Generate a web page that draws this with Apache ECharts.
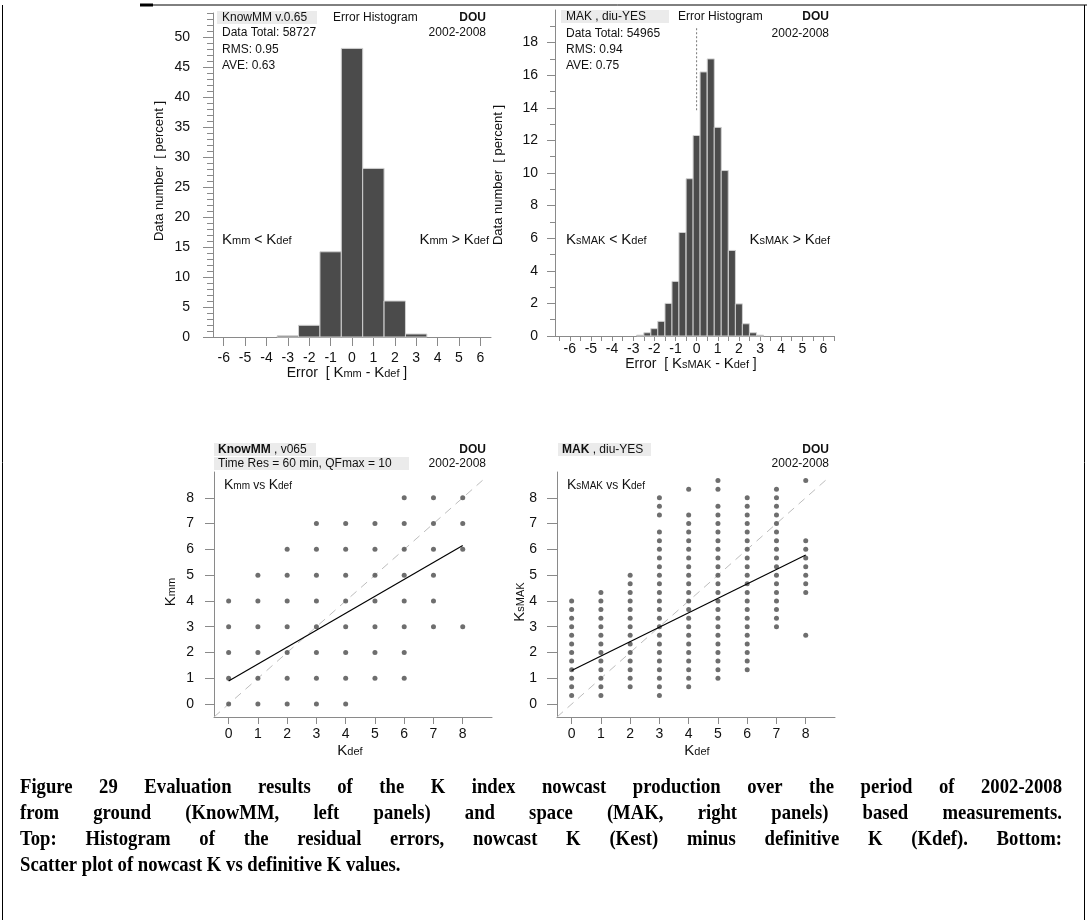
<!DOCTYPE html>
<html><head><meta charset="utf-8">
<script src="https://cdn.jsdelivr.net/npm/echarts@6/dist/echarts.min.js"></script>
<style>html,body{margin:0;padding:0;background:#fff}#c{width:1087px;height:920px}</style>
</head><body><div id="c"></div>
<script>
// ---------- data ----------
const histKmmCenters = [-3, -2, -1, 0, 1, 2, 3];
const histKmmPercent = [0.2, 1.95, 14.2, 48.1, 28.1, 6.0, 0.5];
const histKmmBinWidth = 1;

const histMakCenters = [-2.67, -2.33, -2, -1.67, -1.33, -1, -0.67, -0.33, 0, 0.33, 0.67, 1, 1.33, 1.67, 2, 2.33, 2.67, 3];
const histMakPercent = [0.05, 0.2, 0.45, 0.9, 2.0, 3.35, 6.35, 9.65, 12.3, 16.2, 17.0, 12.8, 10.15, 5.25, 1.97, 0.75, 0.2, 0.05];
const histMakBinWidth = 0.3333;
const makZeroMarker = [[0, 13.85], [0, 18.9]];

const kdefValues = [0, 1, 2, 3, 4, 5, 6, 7, 8];
const kmmByKdef = [
  [0, 1, 2, 3, 4],
  [0, 1, 2, 3, 4, 5],
  [0, 1, 2, 3, 4, 5, 6],
  [0, 1, 2, 3, 4, 5, 6, 7],
  [0, 1, 2, 3, 4, 5, 6, 7],
  [1, 2, 3, 4, 5, 6, 7],
  [1, 2, 3, 4, 5, 6, 7, 8],
  [3, 4, 5, 6, 7, 8],
  [3, 6, 7, 8]
];
const ksmakByKdef = [
  [0.33, 0.67, 1, 1.33, 1.67, 2, 2.33, 2.67, 3, 3.33, 3.67, 4],
  [0.33, 0.67, 1, 1.33, 1.67, 2, 2.33, 2.67, 3, 3.33, 3.67, 4, 4.33],
  [0.67, 1, 1.33, 1.67, 2, 2.33, 2.67, 3, 3.33, 3.67, 4, 4.33, 4.67, 5],
  [0.33, 0.67, 1, 1.33, 1.67, 2, 2.33, 2.67, 3, 3.33, 3.67, 4, 4.33, 4.67, 5, 5.33, 5.67, 6, 6.33, 6.67, 7.33, 7.67, 8],
  [0.67, 1, 1.33, 1.67, 2, 2.33, 2.67, 3, 3.33, 3.67, 4, 4.33, 4.67, 5, 5.33, 5.67, 6, 6.33, 6.67, 7, 7.33, 8.33],
  [1, 1.33, 1.67, 2, 2.33, 2.67, 3, 3.33, 3.67, 4, 4.33, 4.67, 5, 5.33, 5.67, 6, 6.33, 6.67, 7, 7.33, 7.67, 8.33, 8.67],
  [1.33, 1.67, 2, 2.33, 2.67, 3, 3.33, 3.67, 4, 4.33, 4.67, 5, 5.33, 5.67, 6, 6.33, 6.67, 7, 7.33, 7.67, 8],
  [3, 3.33, 3.67, 4, 4.33, 4.67, 5, 5.33, 5.67, 6, 6.33, 6.67, 7, 7.33, 7.67, 8, 8.33],
  [2.67, 4.33, 4.67, 5, 5.33, 5.67, 6, 6.33, 8.67]
];
const fitKmmLine = [[0, 0.9], [8, 6.15]];
const fitMakLine = [[0, 1.3], [8, 5.78]];
const diagonalLine = [[-0.5, -0.5], [8.75, 8.75]];

// tick labels
const histKmmXTicks = [-6, -5, -4, -3, -2, -1, 0, 1, 2, 3, 4, 5, 6];
const histKmmYLabels = [0, 5, 10, 15, 20, 25, 30, 35, 40, 45, 50];
const histMakXLabels = [-6, -5, -4, -3, -2, -1, 0, 1, 2, 3, 4, 5, 6];
const histMakYLabels = [0, 2, 4, 6, 8, 10, 12, 14, 16, 18];
const scatterTicks = [0, 1, 2, 3, 4, 5, 6, 7, 8];

const captionLines = [
  'Figure 29 Evaluation results of the K index nowcast production over the period of 2002-2008',
  'from ground (KnowMM, left panels) and space (MAK, right panels) based measurements.',
  'Top: Histogram of the residual errors, nowcast K (Kest) minus definitive K (Kdef). Bottom:',
  'Scatter plot of nowcast K vs definitive K values.'
];

// ---------- helpers ----------
const FF = '"Liberation Sans", Arial, sans-serif';
const AX = '#8a8a8a';
const TXT = '#111';
const minorLeft = []; for (let v = 1; v <= 54; v++) if (v % 5) minorLeft.push(v);
const minorRight = []; for (let v = 1; v <= 19; v += 2) minorRight.push(v);
const halfTicks = []; for (let v = -13; v <= 13; v++) halfTicks.push(v / 2);

function barRender(params, api) {
  const x = api.value(0), h = api.value(1), w = api.value(2);
  const p0 = api.coord([x - w / 2, h]);
  const p1 = api.coord([x + w / 2, 0]);
  return { type: 'rect', shape: { x: p0[0], y: p0[1], width: p1[0] - p0[0], height: p1[1] - p0[1] },
    style: { fill: '#4b4b4b', stroke: '#d0d0d0', lineWidth: 1 } };
}
function xAx(grid, min, max, ticks, labels, tickLen, margin) {
  return { type: 'value', gridIndex: grid, min, max, position: 'bottom',
    axisLine: { onZero: false, lineStyle: { color: AX, width: 1 } },
    axisTick: { customValues: ticks, length: tickLen, lineStyle: { color: AX } },
    axisLabel: { customValues: labels, margin, color: TXT, fontSize: 14, fontFamily: FF },
    splitLine: { show: false } };
}
function yAx(grid, min, max, ticks, labels, tickLen, margin, showLine) {
  return { type: 'value', gridIndex: grid, min, max, position: 'left',
    axisLine: { show: showLine, onZero: false, lineStyle: { color: AX, width: 1 } },
    axisTick: { show: true, customValues: ticks, length: tickLen, lineStyle: { color: AX } },
    axisLabel: labels ? { customValues: labels, margin, color: TXT, fontSize: 14, fontFamily: FF } : { show: false },
    splitLine: { show: false } };
}
function txt(x, y, text, o) {
  o = o || {};
  const style = { text, fill: TXT, fontFamily: FF, fontSize: o.size || 12, fontWeight: o.weight || 'normal',
    align: o.align || 'left', verticalAlign: 'middle' };
  if (o.rich) style.rich = o.rich;
  return { type: 'text', x, y, rotation: o.rot || 0, silent: true, z: 20, style };
}
function bg(x, y, w, h) {
  return { type: 'rect', shape: { x, y, width: w, height: h }, style: { fill: '#ebebeb' }, silent: true, z: 19 };
}
const KR = {
  K: { fontSize: 15, fontFamily: FF, fill: TXT, verticalAlign: 'bottom' },
  s: { fontSize: 11, fontFamily: FF, fill: TXT, verticalAlign: 'bottom', padding: [0, 0, 1, 0] },
  t: { fontSize: 14, fontFamily: FF, fill: TXT, verticalAlign: 'bottom' },
  b: { fontSize: 12, fontFamily: FF, fill: TXT, fontWeight: 'bold' },
  n: { fontSize: 12, fontFamily: FF, fill: TXT }
};
const KRs = {
  K: { fontSize: 14, fontFamily: FF, fill: TXT, verticalAlign: 'bottom' },
  s: { fontSize: 10, fontFamily: FF, fill: TXT, verticalAlign: 'bottom', padding: [0, 0, 1, 0] },
  t: { fontSize: 12, fontFamily: FF, fill: TXT, verticalAlign: 'bottom' }
};

// ---------- graphic texts ----------
const g = [];
// frame
g.push({ type: 'line', shape: { x1: 148, y1: 5, x2: 1087, y2: 5 }, style: { stroke: '#000', lineWidth: 1 }, silent: true });
g.push({ type: 'line', shape: { x1: 140, y1: 5, x2: 153, y2: 5 }, style: { stroke: '#000', lineWidth: 3 }, silent: true });
g.push({ type: 'line', shape: { x1: 2.5, y1: 5, x2: 2.5, y2: 920 }, style: { stroke: '#000', lineWidth: 1 }, silent: true });
g.push({ type: 'line', shape: { x1: 1084.5, y1: 5, x2: 1084.5, y2: 920 }, style: { stroke: '#000', lineWidth: 1 }, silent: true });

// top-left histogram
g.push(bg(217, 11, 100, 13));
g.push(txt(222, 17.5, 'KnowMM v.0.65'));
g.push(txt(333, 17.5, 'Error Histogram'));
g.push(txt(486, 17.5, 'DOU', { weight: 'bold', align: 'right' }));
g.push(txt(222, 33, 'Data Total: 58727'));
g.push(txt(486, 33, '2002-2008', { align: 'right' }));
g.push(txt(222, 49.5, 'RMS: 0.95'));
g.push(txt(222, 66, 'AVE: 0.63'));
g.push(txt(222, 240, '{K|K}{s|mm}{t| < }{K|K}{s|def}', { rich: KR }));
g.push(txt(489, 240, '{K|K}{s|mm}{t| > }{K|K}{s|def}', { rich: KR, align: 'right' }));
g.push(txt(159, 171, 'Data number  [ percent ]', { size: 13, rot: Math.PI / 2, align: 'center' }));
g.push(txt(347, 373, '{t|Error  [ }{K|K}{s|mm}{t| - }{K|K}{s|def}{t| ]}', { rich: KR, align: 'center' }));

// top-right histogram
g.push(bg(561, 10, 108, 13));
g.push(txt(566, 16.5, 'MAK , diu-YES'));
g.push(txt(678, 16.5, 'Error Histogram'));
g.push(txt(829, 16.5, 'DOU', { weight: 'bold', align: 'right' }));
g.push(txt(566, 33.5, 'Data Total: 54965'));
g.push(txt(829, 33.5, '2002-2008', { align: 'right' }));
g.push(txt(566, 50, 'RMS: 0.94'));
g.push(txt(566, 66, 'AVE: 0.75'));
g.push(txt(566, 240, '{K|K}{s|sMAK}{t| < }{K|K}{s|def}', { rich: KR }));
g.push(txt(830, 240, '{K|K}{s|sMAK}{t| > }{K|K}{s|def}', { rich: KR, align: 'right' }));
g.push(txt(498, 175, 'Data number  [ percent ]', { size: 13, rot: Math.PI / 2, align: 'center' }));
g.push(txt(691, 364, '{t|Error  [ }{K|K}{s|sMAK}{t| - }{K|K}{s|def}{t| ]}', { rich: KR, align: 'center' }));

// bottom-left scatter
g.push(bg(214, 443, 102, 13));
g.push(bg(214, 457, 195, 13));
g.push(txt(218, 449.5, '{b|KnowMM}{n| , v065}', { rich: KR }));
g.push(txt(486, 449.5, 'DOU', { weight: 'bold', align: 'right' }));
g.push(txt(218, 464, 'Time Res = 60 min, QFmax = 10'));
g.push(txt(486, 464, '2002-2008', { align: 'right' }));
g.push(txt(224, 485, '{K|K}{s|mm}{t| vs }{K|K}{s|def}', { rich: KRs }));
g.push(txt(171, 592, '{K|K}{s|mm}', { rich: KR, rot: Math.PI / 2, align: 'center' }));
g.push(txt(350, 751, '{K|K}{s|def}', { rich: KR, align: 'center' }));

// bottom-right scatter
g.push(bg(558, 443, 93, 13));
g.push(txt(562, 449.5, '{b|MAK}{n| , diu-YES}', { rich: KR }));
g.push(txt(829, 449.5, 'DOU', { weight: 'bold', align: 'right' }));
g.push(txt(829, 464, '2002-2008', { align: 'right' }));
g.push(txt(567, 485, '{K|K}{s|sMAK}{t| vs }{K|K}{s|def}', { rich: KRs }));
g.push(txt(520, 602, '{K|K}{s|sMAK}', { rich: KR, rot: Math.PI / 2, align: 'center' }));
g.push(txt(697, 751, '{K|K}{s|def}', { rich: KR, align: 'center' }));

// caption (justified lines, slightly condensed serif bold)
const capFont = 'bold 21px "Liberation Serif", "Times New Roman", serif';
const capScaleX = 0.89;
const mctx = document.createElement('canvas').getContext('2d');
mctx.font = capFont;
const capLeft = 20, capRight = 1062, capTop = 788, capStep = 25.8;
function capText(x, y, t) {
  return { type: 'text', x, y, scaleX: capScaleX, scaleY: 1, silent: true,
    style: { text: t, font: capFont, fill: '#000', align: 'left', verticalAlign: 'middle' } };
}
captionLines.forEach((line, i) => {
  const y = capTop + i * capStep;
  if (i < captionLines.length - 1) {
    const words = line.split(' ');
    const widths = words.map(w => mctx.measureText(w).width * capScaleX);
    const total = widths.reduce((a, b) => a + b, 0);
    const gap = (capRight - capLeft - total) / (words.length - 1);
    let x = capLeft;
    words.forEach((w, j) => { g.push(capText(x, y, w)); x += widths[j] + gap; });
  } else {
    g.push(capText(capLeft, y, line));
  }
});

// ---------- series data ----------
const kmmBars = histKmmCenters.map((c, i) => [c, histKmmPercent[i], histKmmBinWidth]);
const makBars = histMakCenters.map((c, i) => [c, histMakPercent[i], histMakBinWidth]);
const kmmPoints = [];
kdefValues.forEach((k, i) => kmmByKdef[i].forEach(v => kmmPoints.push([k, v])));
const makPoints = [];
kdefValues.forEach((k, i) => ksmakByKdef[i].forEach(v => makPoints.push([k, v])));

const dot = { type: 'scatter', symbol: 'circle', symbolSize: 5, itemStyle: { color: '#4a4a4a' }, silent: true, z: 5 };
const lineBase = { type: 'line', showSymbol: false, silent: true, clip: false };

const option = {
  animation: false,
  backgroundColor: '#fff',
  grid: [
    { left: 213, top: 13, width: 278, height: 324 },
    { left: 555, top: 10, width: 279, height: 326 },
    { left: 214, top: 472, width: 278, height: 245 },
    { left: 557, top: 472, width: 278, height: 245 }
  ],
  xAxis: [
    xAx(0, -6.5, 6.5, histKmmXTicks, histKmmXTicks, 9, 14),
    xAx(1, -6.7, 6.5, halfTicks, histMakXLabels, 5, 6),
    xAx(2, -0.5, 9, scatterTicks, scatterTicks, 7, 10),
    xAx(3, -0.5, 9, scatterTicks, scatterTicks, 7, 10)
  ],
  yAxis: [
    yAx(0, 0, 54, histKmmYLabels, histKmmYLabels, 10, 23, true),
    yAx(0, 0, 54, minorLeft, null, 6, 0, false),
    yAx(1, 0, 20, histMakYLabels, histMakYLabels, 8, 17, true),
    yAx(1, 0, 20, minorRight, null, 5, 0, false),
    yAx(2, -0.5, 9, scatterTicks, scatterTicks, 9, 20, true),
    yAx(3, -0.5, 9, scatterTicks, scatterTicks, 10, 20, true)
  ],
  graphic: { elements: g },
  series: [
    { type: 'custom', xAxisIndex: 0, yAxisIndex: 0, renderItem: barRender, data: kmmBars, encode: { x: 0, y: 1 }, silent: true },
    { type: 'custom', xAxisIndex: 1, yAxisIndex: 2, renderItem: barRender, data: makBars, encode: { x: 0, y: 1 }, silent: true },
    Object.assign({}, lineBase, { xAxisIndex: 1, yAxisIndex: 2, data: makZeroMarker, lineStyle: { color: '#777', width: 1, type: [2, 2] }, z: 6 }),
    Object.assign({}, dot, { xAxisIndex: 2, yAxisIndex: 4, data: kmmPoints }),
    Object.assign({}, lineBase, { xAxisIndex: 2, yAxisIndex: 4, data: diagonalLine, lineStyle: { color: '#bdbdbd', width: 1, type: [8, 6] }, z: 3 }),
    Object.assign({}, lineBase, { xAxisIndex: 2, yAxisIndex: 4, data: fitKmmLine, lineStyle: { color: '#000', width: 1.2 }, z: 6 }),
    Object.assign({}, dot, { xAxisIndex: 3, yAxisIndex: 5, data: makPoints }),
    Object.assign({}, lineBase, { xAxisIndex: 3, yAxisIndex: 5, data: diagonalLine, lineStyle: { color: '#bdbdbd', width: 1, type: [8, 6] }, z: 3 }),
    Object.assign({}, lineBase, { xAxisIndex: 3, yAxisIndex: 5, data: fitMakLine, lineStyle: { color: '#000', width: 1.2 }, z: 6 })
  ]
};
const chart = echarts.init(document.getElementById('c'), null, { renderer: 'canvas' });
chart.setOption(option);
</script>
</body></html>
